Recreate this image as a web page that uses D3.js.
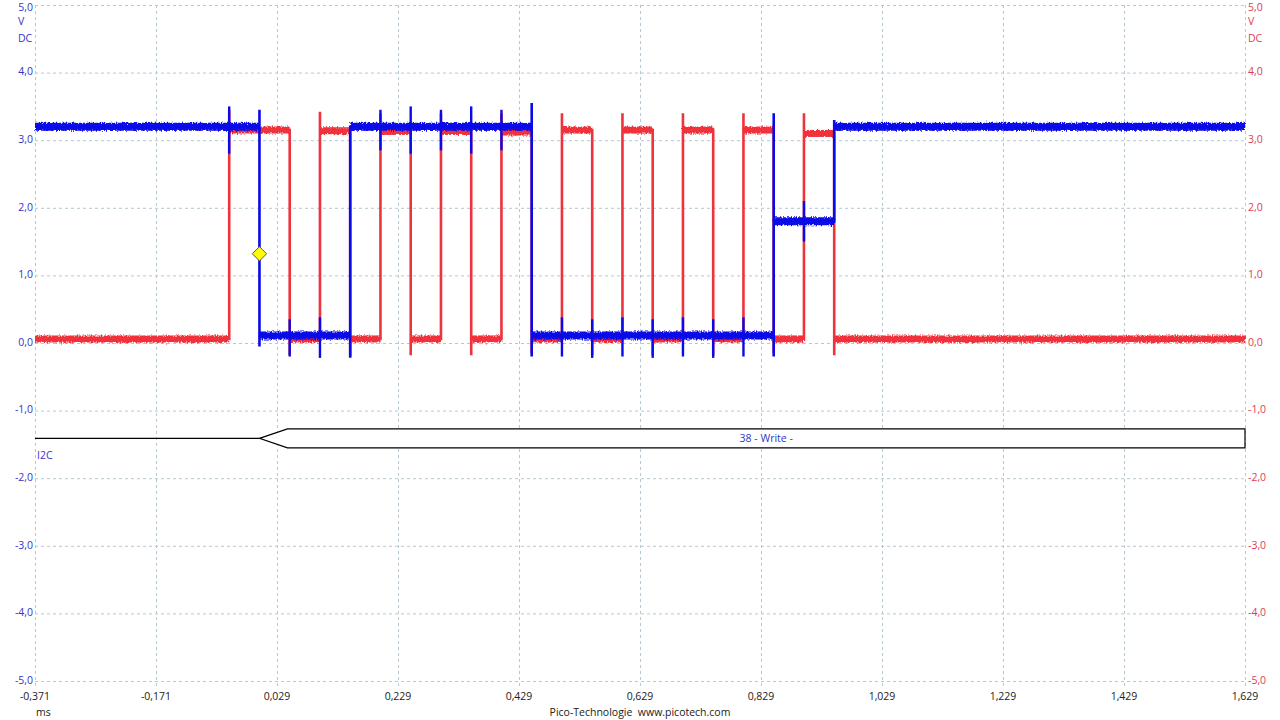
<!DOCTYPE html>
<html>
<head>
<meta charset="utf-8">
<script src="https://cdn.jsdelivr.net/npm/d3@7"></script>
<style>
  html, body { margin: 0; padding: 0; background: #ffffff; }
  svg { display: block; }
  text { font-family: "Open Sans", "DejaVu Sans", sans-serif; font-size: 10.5px; }
</style>
</head>
<body>
<svg id="chart" width="1280" height="720"></svg>
<script>
// ---------------- DATA ----------------
const xTicks = [-0.371, -0.171, 0.029, 0.229, 0.429, 0.629, 0.829, 1.029, 1.229, 1.429, 1.629];
const yTicks = [5, 4, 3, 2, 1, 0, -1, -2, -3, -4, -5];
const xUnit = "ms";
const yUnitLines = ["V", "DC"];

// Channel B (red, SCL): edge times (ms), levels between edges (V), overshoot peak at each edge (V)
const sclEdges  = [-0.05, 0.05, 0.10, 0.15, 0.20, 0.25, 0.30, 0.35, 0.40, 0.45,
                    0.50, 0.55, 0.60, 0.65, 0.70, 0.75, 0.80, 0.85, 0.90, 0.95];
const sclLevels = [0.06, 3.15, 0.06, 3.14, 0.06, 3.13, 0.06, 3.13, 0.06, 3.12, 0.06,
                   3.15, 0.06, 3.15, 0.06, 3.15, 0.06, 3.15, 0.06, 3.10, 0.06];
const sclPeaks  = [3.45, -0.18, 3.42, -0.2, 3.4, -0.18, 3.4, -0.18, 3.4, -0.15,
                   3.4, -0.18, 3.4, -0.18, 3.4, -0.18, 3.4, -0.15, 3.4, -0.18];
// Channel A (blue, SDA)
const sdaEdges  = [0.0, 0.15, 0.45, 0.85, 0.95];
const sdaLevels = [3.2, 0.11, 3.2, 0.11, 1.8, 3.2];
const sdaPeaks  = [3.45, -0.22, 3.55, 3.4, 3.3];
const sdaDips   = [-0.05, -0.22, -0.2, -0.2, 2.6];
// crosstalk spikes on SDA at SCL edges
const sdaSpikeTimes = [-0.05, 0.05, 0.10, 0.20, 0.25, 0.30, 0.35, 0.40,
                        0.50, 0.55, 0.60, 0.65, 0.70, 0.75, 0.80, 0.90];
const sdaSpikeHi    = [3.5, 0.35, 0.38, 3.45, 3.5, 3.45, 3.5, 3.45,
                       0.38, 0.35, 0.38, 0.35, 0.38, 0.35, 0.38, 2.1];
const sdaSpikeLo    = [2.8, -0.2, -0.22, 2.85, 2.8, 2.85, 2.8, 2.85,
                       -0.2, -0.22, -0.2, -0.22, -0.2, -0.22, -0.2, 1.5];
// trigger marker
const trigger = { t: 0.0, v: 1.32 };
// serial decode
const decodeIdleStart = -0.371;
const decodeFrames = [{ start: 0.0, end: 1.629, label: "38 - Write -" }];
const decodeName = "I2C";
const footer = "Pico-Technologie\u00a0\u00a0www.picotech.com";

// ---------------- LAYOUT ----------------
const svg = d3.select("#chart");
const x = d3.scaleLinear().domain([-0.371, 1.629]).range([35, 1245]);
const y = d3.scaleLinear().domain([-5, 5]).range([681, 5]);
const fmt = v => d3.format(".3f")(v).replace(".", ",").replace("−", "-");
const fmtV = v => d3.format(".1f")(v).replace(".", ",").replace("−", "-");

const gridColor = "#b4c9d6";
const blueCol = "#0a0ae8";
const redCol = "#f0323c";
const blueText = "#3434c8";
const redText = "#dc3c5a";

// grid
const grid = svg.append("g");
grid.selectAll("line.h").data(yTicks).join("line")
  .attr("x1", x.range()[0]).attr("x2", x.range()[1])
  .attr("y1", d => y(d) + 0.5).attr("y2", d => y(d) + 0.5)
  .attr("stroke", gridColor).attr("stroke-width", 1).attr("stroke-dasharray", "3,3");
grid.selectAll("line.v").data(xTicks).join("line")
  .attr("x1", d => Math.round(x(d)) + 0.5).attr("x2", d => Math.round(x(d)) + 0.5)
  .attr("y1", y.range()[1]).attr("y2", y.range()[0] + 6)
  .attr("stroke", gridColor).attr("stroke-width", 1).attr("stroke-dasharray", "3,3");

const labelY = d => Math.max(y(d), 8);
// left axis labels
const la = svg.append("g");
la.selectAll("text").data(yTicks).join("text")
  .attr("x", 33).attr("y", labelY).attr("text-anchor", "end")
  .attr("dominant-baseline", "middle").attr("fill", blueText).text(fmtV);
la.selectAll("text.u").data(yUnitLines).join("text").attr("class", "u")
  .attr("x", 18).attr("y", (d, i) => 22 + i * 17).attr("dominant-baseline", "middle")
  .attr("fill", blueText).text(d => d);
// right axis labels
const ra = svg.append("g");
ra.selectAll("text").data(yTicks).join("text")
  .attr("x", 1248).attr("y", labelY).attr("text-anchor", "start")
  .attr("dominant-baseline", "middle").attr("fill", redText).text(fmtV);
ra.selectAll("text.u").data(yUnitLines).join("text").attr("class", "u")
  .attr("x", 1248).attr("y", (d, i) => 22 + i * 17).attr("dominant-baseline", "middle")
  .attr("fill", redText).text(d => d);

// bottom axis labels
svg.append("g").selectAll("text").data(xTicks).join("text")
  .attr("x", d => x(d)).attr("y", 697).attr("text-anchor", "middle")
  .attr("dominant-baseline", "middle").attr("fill", "#222").text(fmt);
svg.append("text").attr("x", 36).attr("y", 713).attr("dominant-baseline", "middle")
  .attr("fill", "#222").text(xUnit);
svg.append("text").attr("x", 640).attr("y", 713).attr("text-anchor", "middle")
  .attr("dominant-baseline", "middle").attr("fill", "#222").text(footer);

// ---------------- TRACES ----------------
function stepPoints(edges, levels, peaks, dips) {
  const pts = [[x.domain()[0], levels[0]]];
  edges.forEach((t, i) => {
    const a = levels[i], b = levels[i + 1];
    pts.push([t, a]);
    if (dips) {
      if (b > a) { pts.push([t, dips[i]]); pts.push([t, peaks[i]]); }
      else { pts.push([t, peaks[i]]); pts.push([t, dips[i]]); }
    } else {
      pts.push([t, peaks[i]]);
    }
    pts.push([t, b]);
  });
  pts.push([x.domain()[1], levels[levels.length - 1]]);
  return pts;
}
function segments(edges, levels) {
  const bounds = [x.domain()[0], ...edges, x.domain()[1]];
  return levels.map((v, i) => ({ t0: bounds[i], t1: bounds[i + 1], v }));
}
const line = d3.line().x(d => x(d[0])).y(d => y(d[1]));

// noise-like jitter filter (visual texture only)
const defs = svg.append("defs");
const f = defs.append("filter").attr("id", "jit").attr("x", "-1%").attr("y", "-60%")
  .attr("width", "102%").attr("height", "220%");
f.append("feTurbulence").attr("type", "fractalNoise").attr("baseFrequency", "0.8 0.5")
  .attr("numOctaves", 1).attr("seed", 3).attr("result", "n");
f.append("feDisplacementMap").attr("in", "SourceGraphic").attr("in2", "n")
  .attr("scale", 5).attr("xChannelSelector", "R").attr("yChannelSelector", "G");

function drawTrace(color, edges, levels, peaks, dips, spikes, bandW) {
  const g = svg.append("g");
  g.append("g").attr("filter", "url(#jit)").selectAll("line")
    .data(segments(edges, levels)).join("line")
    .attr("x1", d => x(d.t0)).attr("x2", d => x(d.t1))
    .attr("y1", d => y(d.v)).attr("y2", d => y(d.v))
    .attr("stroke", color).attr("stroke-width", bandW);
  g.append("path").datum(stepPoints(edges, levels, peaks, dips))
    .attr("d", line).attr("fill", "none").attr("stroke", color).attr("stroke-width", 2.6);
  if (spikes) {
    g.append("g").selectAll("line").data(spikes).join("line")
      .attr("x1", d => x(d.t)).attr("x2", d => x(d.t))
      .attr("y1", d => y(d.hi)).attr("y2", d => y(d.lo))
      .attr("stroke", color).attr("stroke-width", 2.4);
  }
}

drawTrace(redCol, sclEdges, sclLevels, sclPeaks, null, null, 7);
drawTrace(blueCol, sdaEdges, sdaLevels, sdaPeaks, sdaDips,
  sdaSpikeTimes.map((t, i) => ({ t, hi: sdaSpikeHi[i], lo: sdaSpikeLo[i] })), 8);

// trigger marker
svg.append("path")
  .attr("d", d3.symbol().type(d3.symbolDiamond2).size(130)())
  .attr("transform", `translate(${x(trigger.t)},${y(trigger.v)})`)
  .attr("fill", "#ffff00").attr("stroke", "#555").attr("stroke-width", 1);

// ---------------- DECODE BAR ----------------
const dg = svg.append("g");
const yMid = y(-1.41), yTop = y(-1.27), yBot = y(-1.55);
const slope = 28;
dg.append("line").attr("x1", x(decodeIdleStart)).attr("x2", x(decodeFrames[0].start))
  .attr("y1", yMid).attr("y2", yMid).attr("stroke", "#000").attr("stroke-width", 1.2);
decodeFrames.forEach(fr => {
  const x0 = x(fr.start), x1 = x(fr.end);
  dg.append("path")
    .attr("d", `M${x0},${yMid} L${x0 + slope},${yTop} L${x1},${yTop} L${x1},${yBot} L${x0 + slope},${yBot} Z`)
    .attr("fill", "#fff").attr("stroke", "#000").attr("stroke-width", 1.2);
  dg.append("text").attr("x", (x0 + slope + x1) / 2).attr("y", yMid + 0.5)
    .attr("text-anchor", "middle").attr("dominant-baseline", "middle")
    .attr("fill", blueText).text(fr.label);
});
dg.append("text").attr("x", 37).attr("y", 456).attr("dominant-baseline", "middle")
  .attr("fill", blueText).text(decodeName);
</script>
</body>
</html>
